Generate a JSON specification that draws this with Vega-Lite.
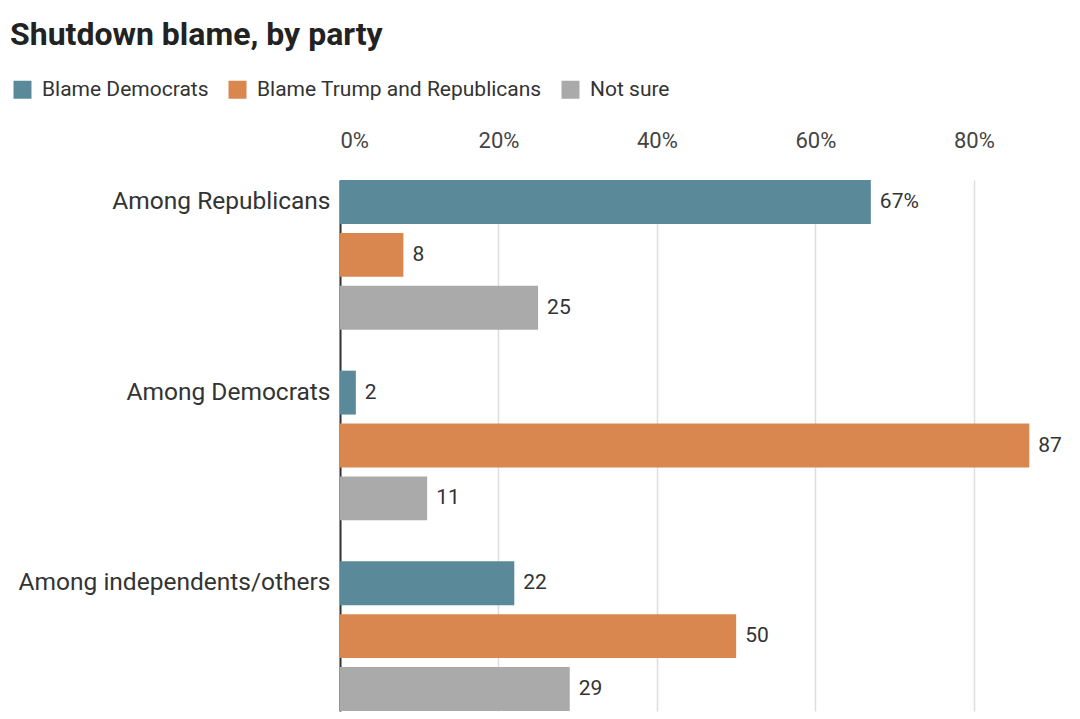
{
  "$schema": "https://vega.github.io/schema/vega-lite/v6.json",
  "autosize": {"type": "none"},
  "width": 740,
  "height": 559,
  "padding": {"left": 340, "top": 160, "right": 0, "bottom": 0},
  "background": "white",
  "config": {"view": {"stroke": null}, "font": "Roboto"},
  "title": {
    "text": "Shutdown blame, by party",
    "anchor": "start",
    "frame": "group",
    "dx": -330,
    "offset": 27,
    "fontSize": 32,
    "fontWeight": "bold",
    "font": "Roboto",
    "color": "#222222"
  },
  "data": {
    "values": [
      {"group": "Among Republicans", "series": "Blame Democrats", "value": 67, "label": "67%"},
      {"group": "Among Republicans", "series": "Blame Trump and Republicans", "value": 8, "label": "8"},
      {"group": "Among Republicans", "series": "Not sure", "value": 25, "label": "25"},
      {"group": "Among Democrats", "series": "Blame Democrats", "value": 2, "label": "2"},
      {"group": "Among Democrats", "series": "Blame Trump and Republicans", "value": 87, "label": "87"},
      {"group": "Among Democrats", "series": "Not sure", "value": 11, "label": "11"},
      {"group": "Among independents/others", "series": "Blame Democrats", "value": 22, "label": "22"},
      {"group": "Among independents/others", "series": "Blame Trump and Republicans", "value": 50, "label": "50"},
      {"group": "Among independents/others", "series": "Not sure", "value": 29, "label": "29"}
    ]
  },
  "encoding": {
    "y": {
      "field": "group",
      "type": "nominal",
      "sort": ["Among Republicans", "Among Democrats", "Among independents/others"],
      "scale": {"range": [20, 551], "paddingInner": 0.215, "paddingOuter": 0},
      "axis": {
        "title": null,
        "orient": "left",
        "domain": true,
        "domainColor": "#333333",
        "domainWidth": 2,
        "ticks": false,
        "labelFontSize": 24.5,
        "labelColor": "#333333",
        "labelPadding": 10,
        "labelOffset": -53,
        "labelLimit": 400
      }
    },
    "yOffset": {
      "field": "series",
      "type": "nominal",
      "sort": ["Blame Democrats", "Blame Trump and Republicans", "Not sure"],
      "scale": {"paddingInner": 0.17, "paddingOuter": 0}
    },
    "x": {
      "field": "value",
      "type": "quantitative",
      "scale": {"domain": [0, 93.4], "nice": false},
      "axis": {
        "title": null,
        "orient": "top",
        "values": [0, 20, 40, 60, 80],
        "labelExpr": "datum.value + '%'",
        "domain": false,
        "ticks": false,
        "grid": true,
        "gridColor": "#dddddd",
        "gridWidth": 1.5,
        "labelFontSize": 22,
        "labelColor": "#444444",
        "labelPadding": 8
      }
    }
  },
  "layer": [
    {
      "mark": {"type": "bar"},
      "encoding": {
        "color": {
          "field": "series",
          "type": "nominal",
          "sort": ["Blame Democrats", "Blame Trump and Republicans", "Not sure"],
          "scale": {
            "domain": ["Blame Democrats", "Blame Trump and Republicans", "Not sure"],
            "range": ["#5a8a99", "#d9874e", "#aaaaaa"]
          },
          "legend": {
            "title": null,
            "orient": "none",
            "direction": "horizontal",
            "legendX": -328,
            "legendY": -81,
            "symbolType": "square",
            "symbolSize": 324,
            "symbolStrokeWidth": 0,
            "symbolOpacity": 1,
            "labelFontSize": 21,
            "labelColor": "#333333",
            "labelOffset": 9,
            "columnPadding": 18,
            "labelLimit": 400
          }
        }
      }
    },
    {
      "mark": {"type": "text", "align": "left", "baseline": "middle", "dx": 9, "fontSize": 21, "color": "#333333"},
      "encoding": {"text": {"field": "label"}}
    }
  ]
}
